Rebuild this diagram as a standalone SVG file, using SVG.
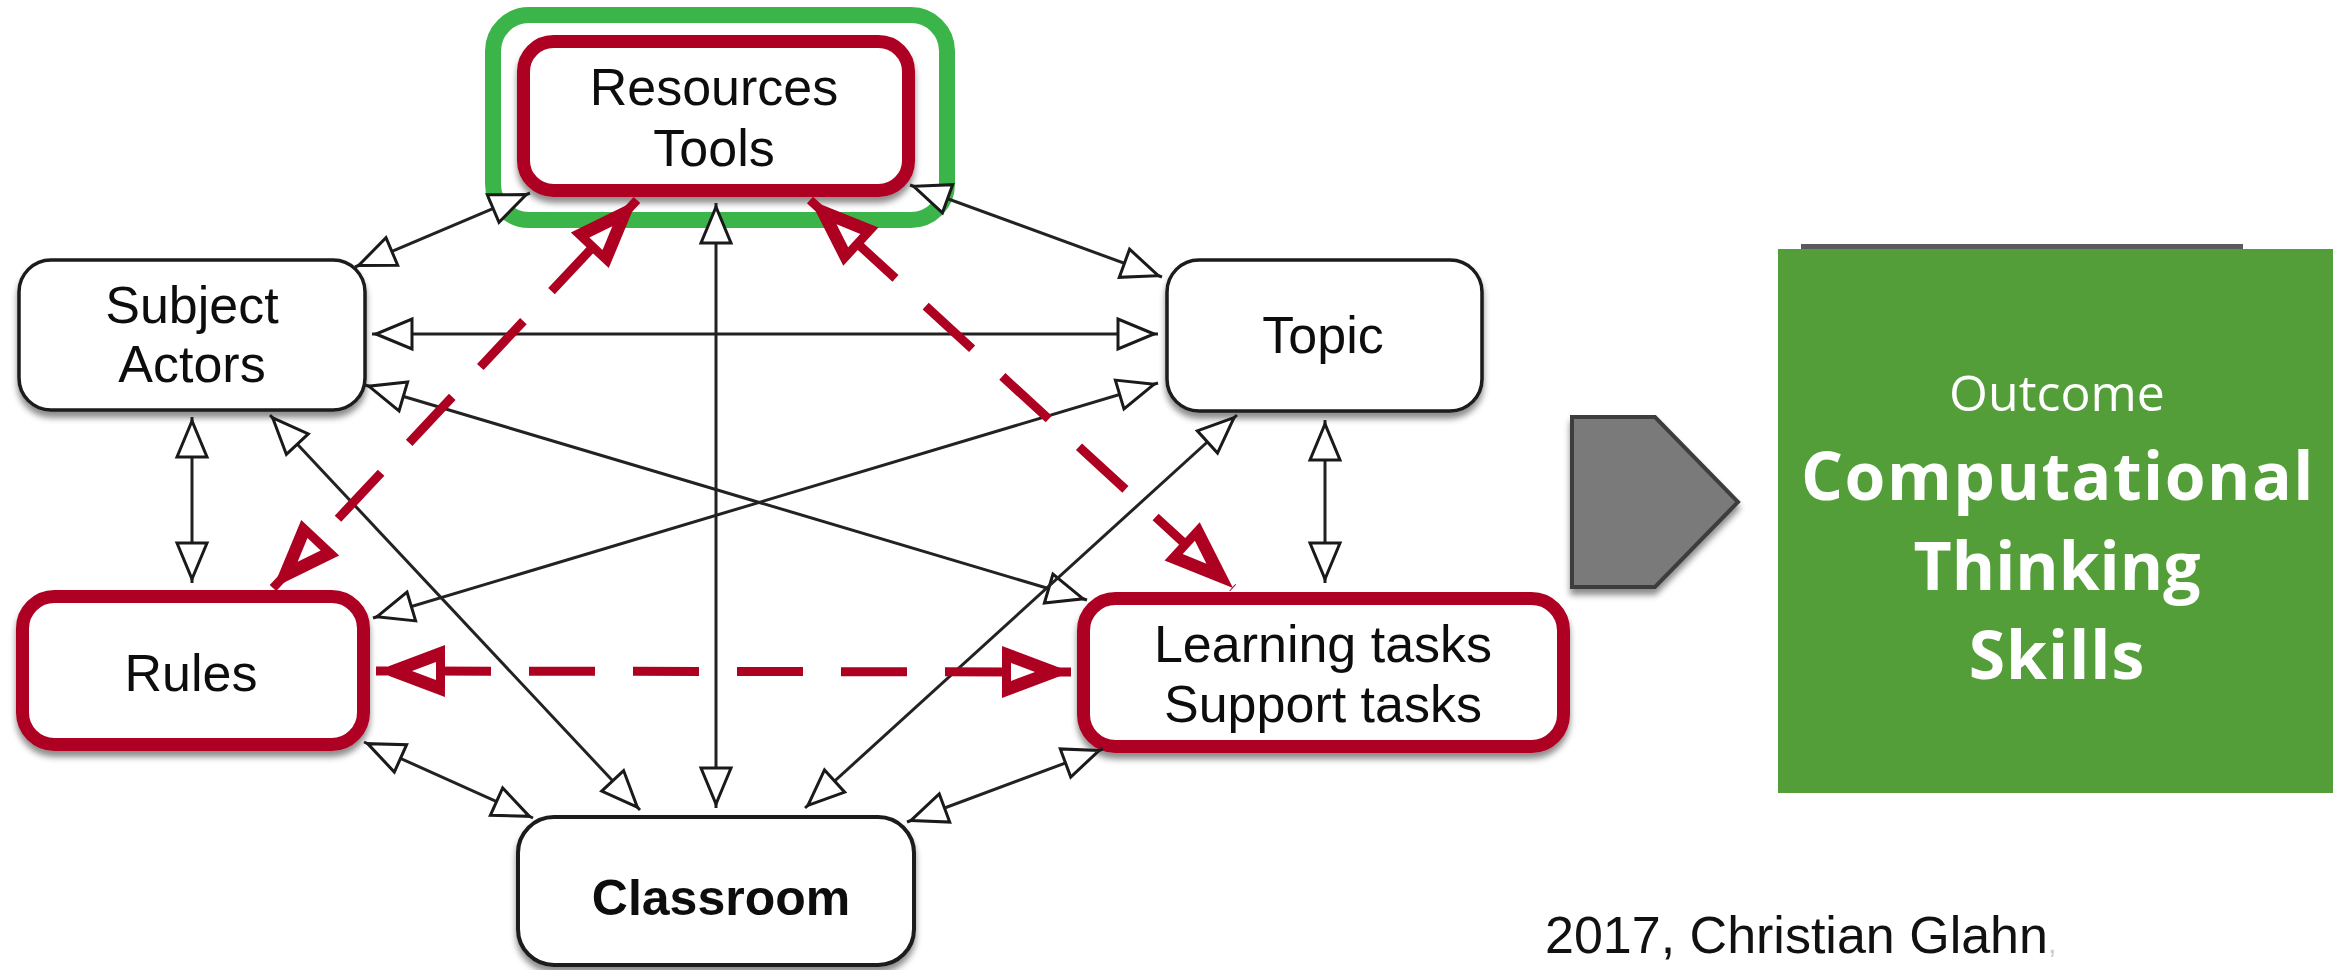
<svg xmlns="http://www.w3.org/2000/svg" width="2333" height="970" viewBox="0 0 2333 970">
  <style>
    .lbl { font-family: "Liberation Sans", Arial, sans-serif; font-size: 52px; fill: #111; text-anchor: middle; }
    .bold { font-weight: 700; font-size: 50px; }
    .plain { fill: #fff; stroke: #1a1a1a; stroke-width: 3.5; }
    .hot { fill: #fff; stroke: #AE0021; stroke-width: 13; }
    .link { fill: none; stroke: #222; stroke-width: 3; marker-start: url(#hollow); marker-end: url(#hollow); }
    .dash { fill: none; stroke: #AE0021; stroke-width: 9; marker-start: url(#redhead); marker-end: url(#redhead); }
    .out { font-family: "Open Sans", "Noto Sans", sans-serif; fill: #fff; text-anchor: middle; }
  </style>
  <defs>
    <filter id="shadow" x="-10%" y="-10%" width="120%" height="135%">
      <feDropShadow dx="0" dy="6" stdDeviation="3" flood-color="#000" flood-opacity="0.45"/>
    </filter>
    <marker id="hollow" viewBox="-50 -25 60 50" refX="0" refY="0" markerWidth="60" markerHeight="50" markerUnits="userSpaceOnUse" orient="auto-start-reverse">
      <path d="M-4,0 L-40,-15 L-40,15 Z" fill="#fff" stroke="#1a1a1a" stroke-width="3"/>
    </marker>
    <marker id="redhead" viewBox="-80 -35 90 70" refX="0" refY="0" markerWidth="90" markerHeight="70" markerUnits="userSpaceOnUse" orient="auto-start-reverse">
      <path d="M0,0 L-69,-26 L-69,26 Z" fill="#AE0021"/>
      <path d="M-36,0 L-60,-9 L-60,9 Z" fill="#fff"/>
    </marker>
  </defs>

  <rect width="2333" height="970" fill="#fff"/>

  <!-- highlight frame around the tools node -->
  <rect id="tools-frame" x="493" y="15" width="454" height="205" rx="36" fill="none" stroke="#3BB54A" stroke-width="16"/>

  <g id="node-resources" filter="url(#shadow)">
    <rect class="hot" x="523.5" y="41.5" width="385" height="149" rx="30"/>
    <text class="lbl" x="714" y="105">Resources</text>
    <text class="lbl" x="714" y="166">Tools</text>
  </g>

  <g id="node-subject" filter="url(#shadow)">
    <rect class="plain" x="19" y="260" width="346" height="150" rx="32"/>
    <text class="lbl" x="192" y="323">Subject</text>
    <text class="lbl" x="192" y="382">Actors</text>
  </g>

  <g id="node-topic" filter="url(#shadow)">
    <rect class="plain" x="1167" y="260" width="315" height="151" rx="32"/>
    <text class="lbl" x="1323" y="353">Topic</text>
  </g>

  <g id="node-rules" filter="url(#shadow)">
    <rect class="hot" x="22.5" y="596.5" width="341" height="148" rx="32"/>
    <text class="lbl" x="191" y="691">Rules</text>
  </g>

  <g id="node-tasks" filter="url(#shadow)">
    <rect class="hot" x="1083.5" y="598.5" width="480" height="148" rx="32"/>
    <text class="lbl" x="1323" y="662">Learning tasks</text>
    <text class="lbl" x="1323" y="722">Support tasks</text>
  </g>

  <g id="node-classroom" filter="url(#shadow)">
    <rect class="plain" x="518" y="817" width="396" height="148" rx="36" style="stroke-width:4"/>
    <text class="lbl bold" x="721" y="915">Classroom</text>
  </g>

  <g id="connectors">
    <line class="link" x1="355" y1="267" x2="530" y2="193"/>
    <line class="link" x1="910" y1="185" x2="1162" y2="277"/>
    <line class="link" x1="372" y1="334" x2="1158" y2="334"/>
    <line class="link" x1="716" y1="203" x2="716" y2="808"/>
    <line class="link" x1="192" y1="417" x2="192" y2="583"/>
    <line class="link" x1="270" y1="415" x2="640" y2="810"/>
    <line class="link" x1="373" y1="618" x2="1158" y2="383"/>
    <line class="link" x1="365" y1="385" x2="1087" y2="600"/>
    <line class="link" x1="1237" y1="415" x2="805" y2="808"/>
    <line class="link" x1="364" y1="742" x2="533" y2="818"/>
    <line class="link" x1="1103" y1="749" x2="907" y2="822"/>
    <line class="link" x1="1325" y1="420" x2="1325" y2="583"/>

    <line class="dash" x1="273" y1="588" x2="637" y2="200" stroke-dasharray="63 41" stroke-dashoffset="9"/>
    <line class="dash" x1="810" y1="200" x2="1233" y2="588" stroke-dasharray="63 41" stroke-dashoffset="51"/>
    <line class="dash" x1="376" y1="671" x2="1071" y2="672" stroke-dasharray="66 38" stroke-dashoffset="55"/>
  </g>

  <!-- outcome block -->
  <g id="outcome-arrow" filter="url(#shadow)">
    <polygon points="1572,417 1655,417 1738,502 1655,587 1572,587" fill="#7a7a7a" stroke="#3d3d3d" stroke-width="4"/>
  </g>

  <g id="node-outcome">
    <rect x="1801" y="244" width="442" height="5" fill="#5a5a5a"/>
    <rect x="1778" y="249" width="555" height="544" fill="#549E39"/>
    <text class="out" x="2057" y="411" font-size="50">Outcome</text>
    <text class="out" x="2058" y="500" font-size="66" font-weight="700" letter-spacing="1.5">Computational</text>
    <text class="out" x="2057" y="590" font-size="66" font-weight="700">Thinking</text>
    <text class="out" x="2057" y="679" font-size="66" font-weight="700" letter-spacing="1">Skills</text>
  </g>

  <text id="credit" x="1545" y="953" font-family="'Liberation Sans', Arial, sans-serif" font-size="52" fill="#111">2017, Christian Glahn<tspan fill="#ccc" font-size="30">,</tspan></text>
</svg>
